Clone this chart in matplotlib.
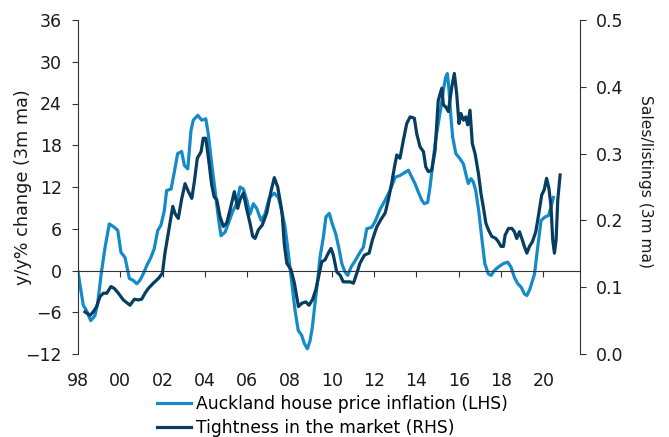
import matplotlib.pyplot as plt

plt.rcParams['font.family'] = ['DejaVu Sans']
plt.rcParams['font.size'] = 12

# Auckland house price inflation, y/y % (3m ma) - left axis
lhs_years = [1998.0, 1998.25, 1998.4, 1998.6, 1998.8, 1998.93, 1999.1, 1999.28, 1999.48, 1999.72,
             1999.88, 2000.03, 2000.22, 2000.43, 2000.6, 2000.78, 2000.93, 2001.09, 2001.25, 2001.45,
             2001.6, 2001.77, 2001.92, 2002.08, 2002.19, 2002.4, 2002.55, 2002.71, 2002.9, 2003.03,
             2003.19, 2003.34, 2003.45, 2003.66, 2003.85, 2004.04, 2004.16, 2004.32, 2004.48, 2004.63,
             2004.76, 2004.95, 2005.1, 2005.3, 2005.5, 2005.66, 2005.82, 2005.98, 2006.13, 2006.29,
             2006.45, 2006.65, 2006.84, 2007.05, 2007.28, 2007.47, 2007.63, 2007.79, 2007.91, 2008.02,
             2008.13, 2008.26, 2008.41, 2008.57, 2008.7, 2008.84, 2008.97, 2009.08, 2009.2, 2009.33,
             2009.44, 2009.6, 2009.72, 2009.88, 2010.02, 2010.18, 2010.34, 2010.47, 2010.62, 2010.75,
             2010.91, 2011.1, 2011.33, 2011.49, 2011.65, 2011.88, 2012.04, 2012.28, 2012.5, 2012.75,
             2012.99, 2013.22, 2013.46, 2013.62, 2013.78, 2013.93, 2014.09, 2014.25, 2014.37, 2014.53,
             2014.64, 2014.75, 2014.88, 2015.03, 2015.16, 2015.27, 2015.38, 2015.46, 2015.54, 2015.63,
             2015.71, 2015.86, 2016.06, 2016.22, 2016.33, 2016.45, 2016.58, 2016.69, 2016.8, 2016.95,
             2017.09, 2017.23, 2017.4, 2017.53, 2017.68, 2017.87, 2018.11, 2018.31, 2018.47, 2018.63,
             2018.79, 2018.95, 2019.1, 2019.22, 2019.37, 2019.58, 2019.73, 2019.89, 2020.08, 2020.24,
             2020.36, 2020.47]
lhs_values = [-0.2, -5.0, -5.75, -7.2, -6.5, -4.7, -0.4, 3.35, 6.7, 6.2,
              5.75, 2.6, 1.9, -1.15, -1.4, -1.9, -1.4, -0.45, 0.7, 1.9,
              3.1, 5.75, 6.5, 8.6, 11.5, 11.7, 14.1, 16.8, 17.1, 15.1,
              14.6, 20.1, 21.6, 22.3, 21.6, 21.8, 19.6, 15.3, 11.5, 7.7,
              5.0, 5.5, 6.7, 8.4, 9.6, 12.0, 11.7, 10.1, 8.1, 9.6,
              8.9, 7.2, 8.1, 10.5, 11.1, 10.5, 8.6, 6.2, 3.35, 0.5,
              -2.4, -5.75, -8.6, -9.3, -10.5, -11.25, -10.1, -8.1, -4.8, -1.4,
              1.9, 4.8, 7.7, 8.2, 6.7, 5.3, 3.1, 1.0, -0.2, -0.7,
              0.5, 1.4, 2.6, 3.35, 6.0, 6.2, 7.0, 8.8, 10.0, 11.5,
              13.4, 13.65, 14.1, 14.4, 13.4, 12.5, 11.25, 10.1, 9.6, 9.8,
              12.0, 14.85, 18.2, 21.1, 23.5, 25.9, 27.8, 28.3, 25.9, 22.0,
              19.2, 16.8, 16.05, 15.3, 13.9, 12.5, 13.2, 12.7, 11.5, 8.4,
              4.6, 1.0, -0.5, -0.7, 0.0, 0.5, 1.0, 1.2, 0.5, -1.0,
              -1.9, -2.4, -3.35, -3.6, -2.6, -0.5, 3.35, 7.2, 7.7, 7.9,
              9.1, 10.5]

# Tightness in the market, sales/listings (3m ma) - right axis
rhs_years = [1998.33, 1998.57, 1998.72, 1998.88, 1999.04, 1999.2, 1999.36, 1999.56, 1999.72, 1999.91,
             2000.14, 2000.46, 2000.66, 2000.85, 2001.01, 2001.17, 2001.32, 2001.56, 2001.8, 2001.99,
             2002.11, 2002.27, 2002.48, 2002.59, 2002.74, 2002.9, 2003.06, 2003.22, 2003.38, 2003.5,
             2003.64, 2003.82, 2003.92, 2004.04, 2004.16, 2004.32, 2004.44, 2004.56, 2004.71, 2004.87,
             2005.03, 2005.19, 2005.39, 2005.55, 2005.66, 2005.82, 2005.98, 2006.13, 2006.26, 2006.37,
             2006.53, 2006.71, 2006.92, 2007.12, 2007.28, 2007.44, 2007.6, 2007.66, 2007.75, 2007.87,
             2008.07, 2008.23, 2008.42, 2008.58, 2008.77, 2008.92, 2009.08, 2009.24, 2009.39, 2009.52,
             2009.68, 2009.83, 2009.96, 2010.07, 2010.23, 2010.39, 2010.54, 2010.7, 2010.86, 2011.02,
             2011.18, 2011.33, 2011.54, 2011.76, 2011.92, 2012.12, 2012.33, 2012.52, 2012.67, 2012.83,
             2012.96, 2013.07, 2013.22, 2013.38, 2013.54, 2013.7, 2013.9, 2014.01, 2014.17, 2014.33,
             2014.44, 2014.56, 2014.72, 2014.88, 2015.03, 2015.2, 2015.27, 2015.38, 2015.51, 2015.67,
             2015.79, 2015.9, 2016.01, 2016.1, 2016.22, 2016.33, 2016.42, 2016.53, 2016.64, 2016.77,
             2016.93, 2017.05, 2017.16, 2017.28, 2017.4, 2017.56, 2017.75, 2017.87, 2018.0, 2018.11,
             2018.19, 2018.35, 2018.51, 2018.63, 2018.74, 2018.87, 2018.98, 2019.1, 2019.22, 2019.34,
             2019.48, 2019.64, 2019.76, 2019.92, 2020.04, 2020.15, 2020.26, 2020.36, 2020.44, 2020.52,
             2020.6, 2020.68, 2020.79]
rhs_values = [0.063, 0.058, 0.063, 0.071, 0.086, 0.091, 0.091, 0.101, 0.098, 0.091,
              0.081, 0.073, 0.082, 0.081, 0.082, 0.091, 0.098, 0.106, 0.113, 0.121,
              0.151, 0.181, 0.221, 0.21, 0.203, 0.232, 0.255, 0.243, 0.233, 0.258,
              0.293, 0.303, 0.323, 0.323, 0.295, 0.253, 0.235, 0.231, 0.206, 0.191,
              0.196, 0.216, 0.243, 0.218, 0.231, 0.241, 0.216, 0.196, 0.176, 0.173,
              0.186, 0.193, 0.211, 0.243, 0.264, 0.25, 0.221, 0.206, 0.165, 0.136,
              0.126, 0.106, 0.071, 0.076, 0.078, 0.073, 0.081, 0.096, 0.118, 0.138,
              0.141, 0.151, 0.158, 0.148, 0.123, 0.118, 0.108, 0.108, 0.108, 0.106,
              0.121, 0.136, 0.148, 0.151, 0.171, 0.19, 0.202, 0.211, 0.231, 0.256,
              0.28, 0.298, 0.293, 0.32, 0.345, 0.355, 0.353, 0.33, 0.31, 0.303,
              0.28, 0.273, 0.275, 0.305, 0.38, 0.398, 0.373, 0.37, 0.363, 0.40,
              0.42, 0.39, 0.345, 0.36, 0.35, 0.355, 0.343, 0.365, 0.315, 0.30,
              0.27, 0.24, 0.22, 0.196, 0.186, 0.176, 0.173, 0.168, 0.161, 0.161,
              0.178, 0.188, 0.188, 0.183, 0.173, 0.183, 0.173, 0.161, 0.151, 0.161,
              0.168, 0.183, 0.206, 0.238, 0.246, 0.263, 0.248, 0.221, 0.171, 0.151,
              0.171, 0.231, 0.268]

year_ticks = list(range(1998, 2021, 2))
year_labels = ['98', '00', '02', '04', '06', '08', '10', '12', '14', '16', '18', '20']

light = '#158ac8'
dark = '#063d60'
axis_col = '#333333'
text_col = '#1a1a1a'

fig = plt.figure(figsize=(6.69, 4.37), dpi=100)
ax = fig.add_axes([78 / 669, 1 - 354 / 437, (580 - 78) / 669, (354 - 20) / 437])
ax2 = ax.twinx()

ax.plot(lhs_years, lhs_values, color=light, lw=2.3, label='Auckland house price inflation (LHS)')
ax2.plot(rhs_years, rhs_values, color=dark, lw=2.3, label='Tightness in the market (RHS)')

ax.set_xlim(1998, 2021.73)
ax.set_ylim(-12, 36)
ax.set_yticks(range(-12, 37, 6))
ax2.set_ylim(0, 0.5)
ax2.set_yticks([0.0, 0.1, 0.2, 0.3, 0.4, 0.5])
ax2.set_yticklabels(['0.0', '0.1', '0.2', '0.3', '0.4', '0.5'])

# x axis crosses at zero, labels sit below the plot
for a in (ax, ax2):
    a.spines['top'].set_visible(False)
ax2.spines['bottom'].set_visible(False)
ax.spines['bottom'].set_position(('data', 0))
ax.spines['bottom'].set_color(axis_col)
ax.spines['left'].set_color(axis_col)
ax2.spines['right'].set_color(axis_col)
ax2.spines['left'].set_visible(False)
ax.spines['right'].set_visible(False)

ax.set_xticks(year_ticks)
ax.tick_params(axis='x', direction='out', length=4.5, color=axis_col, labelbottom=False)
sec = ax.secondary_xaxis('bottom')
sec.set_xticks(year_ticks)
sec.set_xticklabels(year_labels)
sec.tick_params(length=0, pad=13, labelsize=12.5, colors=text_col)
sec.spines['bottom'].set_visible(False)

ax.tick_params(axis='y', length=4.5, pad=7, color=axis_col, labelsize=12.5, labelcolor=text_col)
ax2.tick_params(axis='y', length=4.5, pad=7, color=axis_col, labelsize=12.5, labelcolor=text_col)

ax.set_ylabel('y/y% change (3m ma)', fontsize=12.7, color=text_col)
ax.yaxis.set_label_coords(-0.091, 0.5)
ax2.set_ylabel('Sales/listings (3m ma)', fontsize=11.2, color=text_col, rotation=-90)
ax2.yaxis.set_label_coords(1.145, 0.515)

h1, l1 = ax.get_legend_handles_labels()
h2, l2 = ax2.get_legend_handles_labels()
fig.legend(h1 + h2, l1 + l2, loc='upper left', bbox_to_anchor=(157 / 669, 1 - 395 / 437),
           frameon=False, fontsize=12.3, handlelength=2.0, handletextpad=0.3,
           labelspacing=0.35, borderaxespad=0, borderpad=0)

fig.savefig('out.png', dpi=100)
